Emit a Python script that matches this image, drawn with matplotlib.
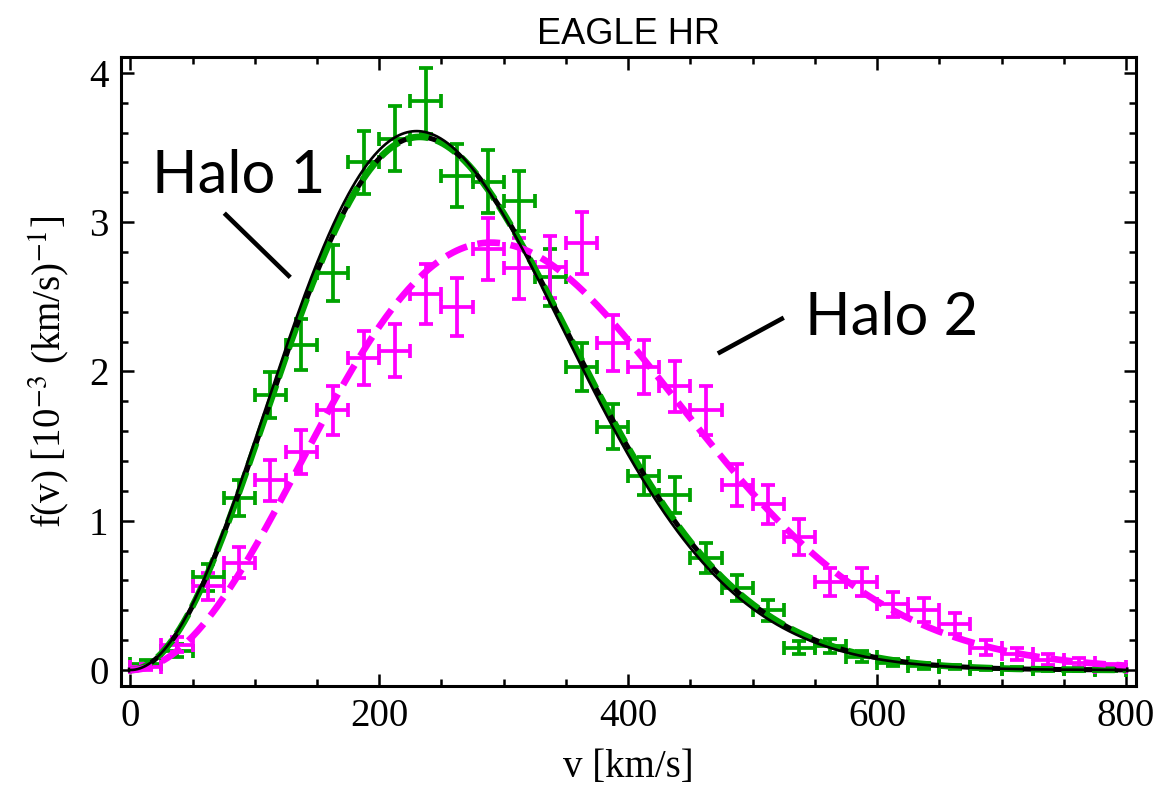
import numpy as np
import matplotlib
matplotlib.use("Agg")
import matplotlib.pyplot as plt
from matplotlib.ticker import MultipleLocator

# ---- binned speed distributions (units of 1e-3 (km/s)^-1) ----
bin_half_width = 12.5
v_bins = [12.5, 37.5, 62.5, 87.5, 112.5, 137.5, 162.5, 187.5, 212.5, 237.5,
          262.5, 287.5, 312.5, 337.5, 362.5, 387.5, 412.5, 437.5, 462.5, 487.5,
          512.5, 537.5, 562.5, 587.5, 612.5, 637.5, 662.5, 687.5, 712.5, 737.5,
          762.5, 787.5]

halo1_f = [0.04, 0.13, 0.62, 1.15, 1.84, 2.18, 2.66, 3.40, 3.56, 3.81,
           3.31, 3.27, 3.14, 2.63, 2.03, 1.63, 1.30, 1.17, 0.75, 0.55,
           0.40, 0.15, 0.16, 0.09, 0.05, 0.03, 0.02, 0.01, 0.01, 0.005,
           0.005, 0.003]
halo1_err = [0.025, 0.045, 0.09, 0.12, 0.155, 0.17, 0.19, 0.21, 0.22, 0.22,
             0.21, 0.21, 0.20, 0.19, 0.16, 0.15, 0.13, 0.12, 0.10, 0.085,
             0.07, 0.045, 0.045, 0.035, 0.025, 0.02, 0.015, 0.012, 0.012, 0.01,
             0.01, 0.008]

halo2_f = [0.02, 0.17, 0.56, 0.72, 1.27, 1.46, 1.74, 2.09, 2.14, 2.52,
           2.43, 2.82, 2.69, 2.70, 2.86, 2.19, 2.03, 1.90, 1.74, 1.24,
           1.11, 0.89, 0.59, 0.59, 0.44, 0.40, 0.31, 0.15, 0.11, 0.07,
           0.05, 0.02]
halo2_err = [0.02, 0.05, 0.09, 0.105, 0.14, 0.15, 0.165, 0.18, 0.18, 0.20,
             0.195, 0.21, 0.205, 0.205, 0.21, 0.185, 0.18, 0.17, 0.165, 0.14,
             0.13, 0.12, 0.095, 0.095, 0.085, 0.08, 0.07, 0.05, 0.04, 0.035,
             0.03, 0.02]

# ---- Maxwellian model parameters (km/s) ----
v0_shm = 230.0       # standard halo model
v0_halo1 = 232.5     # best fit, halo 1
v0_halo2 = 290.0     # best fit, halo 2

x_ticks = [0, 200, 400, 600, 800]
y_ticks = [0, 1, 2, 3, 4]


def maxwellian(v, v0):
    """Normalised Maxwell speed distribution in units of 1e-3 (km/s)^-1."""
    return 1e3 * 4.0 / np.sqrt(np.pi) * v**2 / v0**3 * np.exp(-(v / v0) ** 2)


GREEN = "#00A300"
MAGENTA = "#FF00FF"

plt.rcParams["mathtext.fontset"] = "stix"

fig = plt.figure(figsize=(11.61, 8.0), dpi=100)
ax = fig.add_axes([0.1042, 0.1425, 0.8743, 0.78625])

eb_kw = dict(fmt="none", elinewidth=2.7, capsize=5, capthick=2.7)
ax.errorbar(v_bins, halo1_f, yerr=halo1_err, xerr=bin_half_width,
            ecolor=GREEN, zorder=2, **eb_kw)
ax.errorbar(v_bins, halo2_f, yerr=halo2_err, xerr=bin_half_width,
            ecolor=MAGENTA, zorder=2, **eb_kw)

v = np.linspace(0, 800, 800)
ax.plot(v, maxwellian(v, v0_halo1), color="black", lw=3.6, zorder=3)
ax.plot(v, maxwellian(v, v0_halo1), color=GREEN, lw=4.8,
        dashes=(3.4, 1.2), zorder=4)
ax.plot(v, maxwellian(v, v0_shm), color="black", lw=1.9, zorder=5)
ax.plot(v, maxwellian(v, v0_halo2), color=MAGENTA, lw=4.8,
        dashes=(3.4, 1.6), zorder=4)

# halo labels with pointer lines
ax.text(17.7, 3.195, "Halo 1", fontfamily="Lato", fontsize=43,
        ha="left", va="baseline", zorder=6)
ax.plot([75.5, 128.5], [3.06, 2.63], color="black", lw=3.3,
        solid_capstyle="butt", zorder=6)
ax.text(542, 2.244, "Halo 2", fontfamily="Lato", fontsize=43,
        ha="left", va="baseline", zorder=6)
ax.plot([472, 525], [2.12, 2.36], color="black", lw=3.3,
        solid_capstyle="butt", zorder=6)

ax.set_xlim(-7.5, 808)
ax.set_ylim(-0.107, 4.106)
ax.set_xticks(x_ticks)
ax.set_yticks(y_ticks)
ax.xaxis.set_minor_locator(MultipleLocator(50))
ax.yaxis.set_minor_locator(MultipleLocator(0.2))

serif = "Liberation Serif"
ax.tick_params(which="both", direction="in", top=True, right=True,
               width=1.8, labelsize=28, pad=9)
ax.tick_params(which="major", length=9)
ax.tick_params(which="minor", length=5)
for lab in ax.get_xticklabels() + ax.get_yticklabels():
    lab.set_fontfamily(serif)
for sp in ax.spines.values():
    sp.set_linewidth(2.2)

ax.set_xlabel("v [km/s]", fontfamily=serif, fontsize=28, labelpad=10)
ax.set_ylabel("f(v) [10$^{-3}$ (km/s)$^{-1}$]", fontfamily=serif,
              fontsize=28, labelpad=12)
ax.set_title("EAGLE HR", fontfamily="Liberation Sans", fontsize=26, pad=9)

fig.savefig("out.png", dpi=100)
